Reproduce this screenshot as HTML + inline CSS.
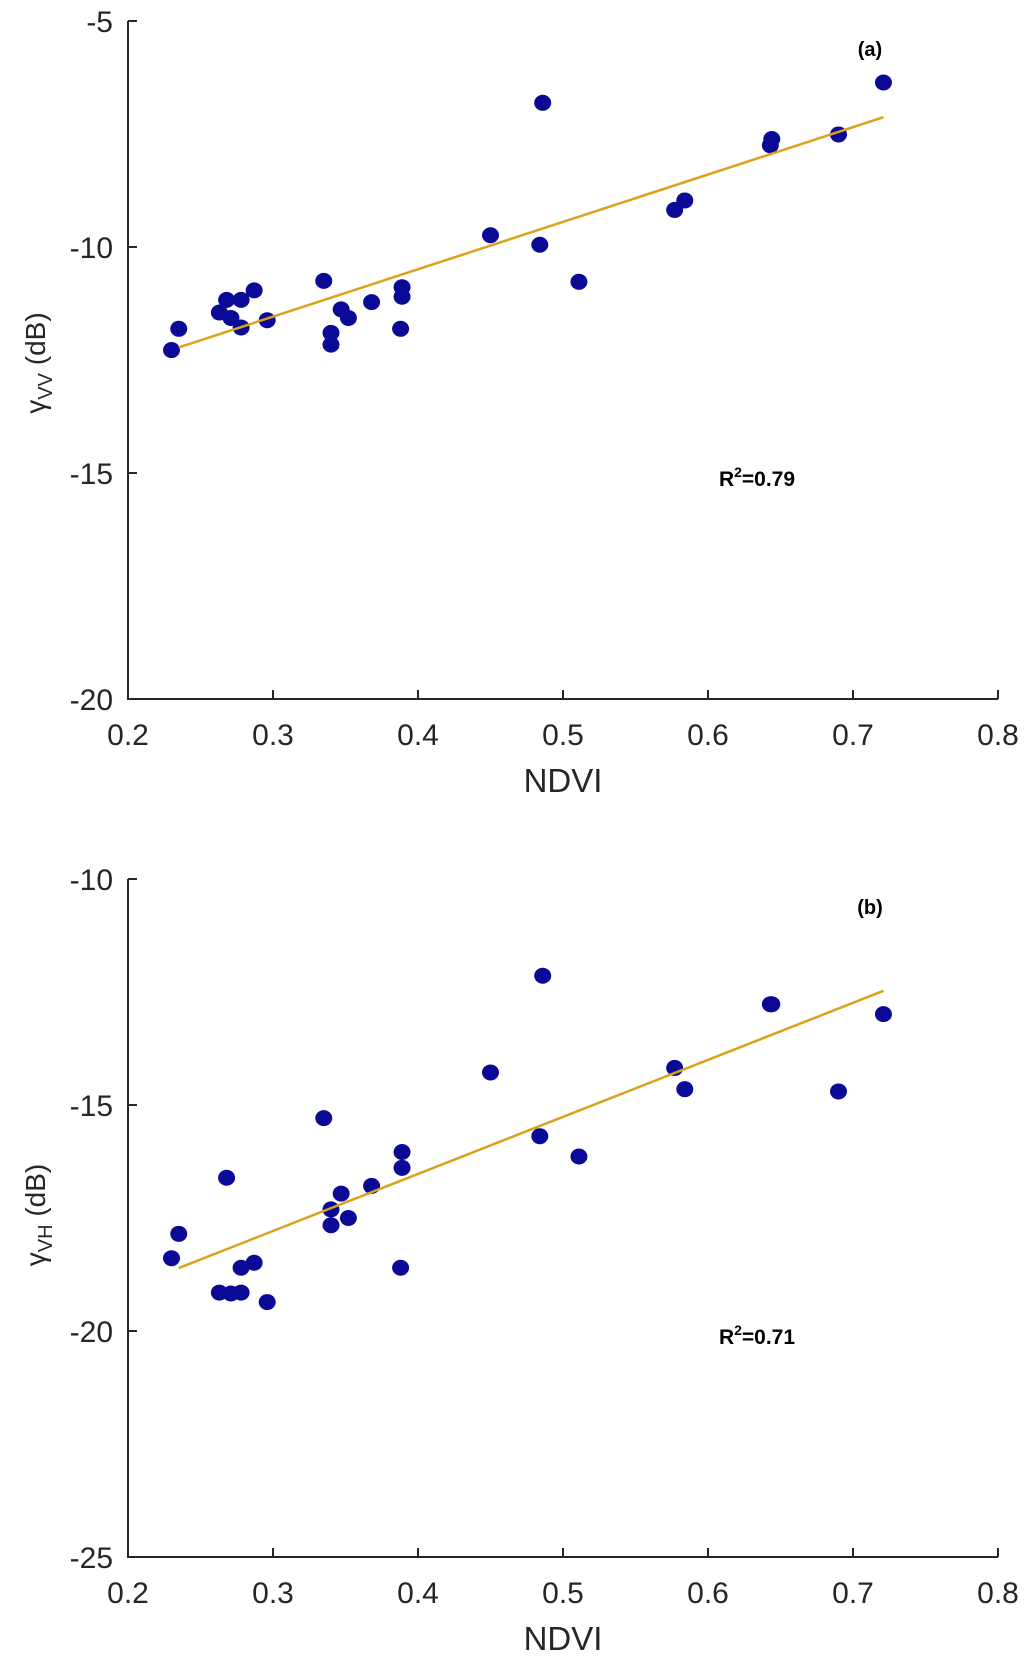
<!DOCTYPE html>
<html><head><meta charset="utf-8"><style>
html,body{margin:0;padding:0;background:#fff;}
svg{display:block;font-family:"Liberation Sans",Arial,sans-serif;}
</style></head><body>
<svg id="chart" width="1024" height="1665" viewBox="0 0 1024 1665" xmlns="http://www.w3.org/2000/svg"></svg>
<script>
const ndvi = [0.230,0.235,0.263,0.268,0.271,0.278,0.278,0.287,0.296,0.335,0.340,0.340,0.347,0.352,0.368,0.388,0.389,0.389,0.450,0.484,0.486,0.511,0.577,0.584,0.643,0.644,0.690,0.721];
const vvValues = [-12.28,-11.81,-11.45,-11.17,-11.57,-11.17,-11.78,-10.96,-11.62,-10.75,-11.90,-12.16,-11.38,-11.57,-11.22,-11.81,-10.89,-11.10,-9.74,-9.95,-6.81,-10.77,-9.18,-8.97,-7.75,-7.61,-7.51,-6.36];
const vhValues = [-18.39,-17.85,-19.15,-16.61,-19.17,-18.60,-19.15,-18.49,-19.36,-15.29,-17.31,-17.66,-16.96,-17.50,-16.79,-18.60,-16.04,-16.39,-14.28,-15.69,-12.14,-16.14,-14.18,-14.65,-12.77,-12.77,-14.70,-12.99];
const xTicks = [0.2,0.3,0.4,0.5,0.6,0.7,0.8];
const vvTicks = [-5,-10,-15,-20];
const vhTicks = [-10,-15,-20,-25];
const r2Labels = ["0.79","0.71"];

const NS="http://www.w3.org/2000/svg";
const svg=document.getElementById('chart');
function mk(tag,attrs,parent){const e=document.createElementNS(NS,tag);for(const k in attrs)e.setAttribute(k,attrs[k]);(parent||svg).appendChild(e);return e;}

function panel(id,top,bottom,yMin,yMax,yTicks,ys,letter,r2,sub,labelY){
  const L=128,R=998;
  const xs=v=>L+(v-0.2)/(0.6)*(R-L);
  const ysc=v=>bottom-(v-yMin)/(yMax-yMin)*(bottom-top);
  const g=mk('g',{});
  
  
  const ax=mk('path',{d:`M${L},${top}V${bottom}H${R}`,stroke:'#262626','stroke-width':2,fill:'none'},g);
  
  
  xTicks.forEach(t=>{
    const x=xs(t);
    mk('line',{x1:x,x2:x,y1:bottom,y2:bottom-9,stroke:'#262626','stroke-width':2},g);
    const tx=mk('text',{x:x,y:bottom+46,'text-anchor':'middle','font-size':30,fill:'#262626'},g);
    tx.textContent=t.toFixed(1);
    
    
  });
  yTicks.forEach(t=>{
    const y=ysc(t);
    mk('line',{x1:L,x2:L+9,y1:y,y2:y,stroke:'#262626','stroke-width':2},g);
    const tx=mk('text',{x:113,y:y+11,'text-anchor':'end','font-size':30,fill:'#262626'},g);
    tx.textContent=String(t);
    
    
  });
  const xl=mk('text',{x:563,y:bottom+93,'text-anchor':'middle','font-size':33,fill:'#262626'},g);
  xl.textContent='NDVI';
  
  
  const yl=mk('text',{x:0,y:0,'text-anchor':'middle','font-size':28,fill:'#262626',transform:`translate(45,${labelY}) rotate(-90)`},g);
  yl.innerHTML=`γ<tspan font-size="20" dy="7">${sub}</tspan><tspan dy="-7"> (dB)</tspan>`;
  
  
  const n=ndvi.length;let mx=0,my=0;for(let i=0;i<n;i++){mx+=ndvi[i];my+=ys[i];}mx/=n;my/=n;
  let sxy=0,sxx=0;for(let i=0;i<n;i++){sxy+=(ndvi[i]-mx)*(ys[i]-my);sxx+=(ndvi[i]-mx)**2;}
  const b=sxy/sxx,a=my-b*mx;
  const x0=Math.min(...ndvi)+0.005,x1=Math.max(...ndvi);
  ndvi.forEach((v,i)=>{
    const c=mk('ellipse',{cx:xs(v),cy:ysc(ys[i]),rx:8.5,ry:8,fill:'#0a0a96'},g);
    
    
  });
  const fl=mk('line',{x1:xs(x0),y1:ysc(a+b*x0),x2:xs(x1),y2:ysc(a+b*x1),stroke:'#D9A21A','stroke-width':2.5},g);
  
  
  const pl=mk('text',{x:870,y:top+35,'text-anchor':'middle','font-size':20,'font-weight':'bold',fill:'#000'},g);
  pl.textContent=letter;
  
  
  const rt=mk('text',{x:757,y:top+465,'text-anchor':'middle','font-size':21,'font-weight':'bold',fill:'#000'},g);
  rt.innerHTML=`R<tspan font-size="14" dy="-9">2</tspan><tspan dy="9">=${r2}</tspan>`;
  
  
}
panel('vv',21,699,-20,-5,vvTicks,vvValues,'(a)',r2Labels[0],'VV',363);
panel('vh',879,1557,-25,-10,vhTicks,vhValues,'(b)',r2Labels[1],'VH',1215);
</script>
</body></html>
